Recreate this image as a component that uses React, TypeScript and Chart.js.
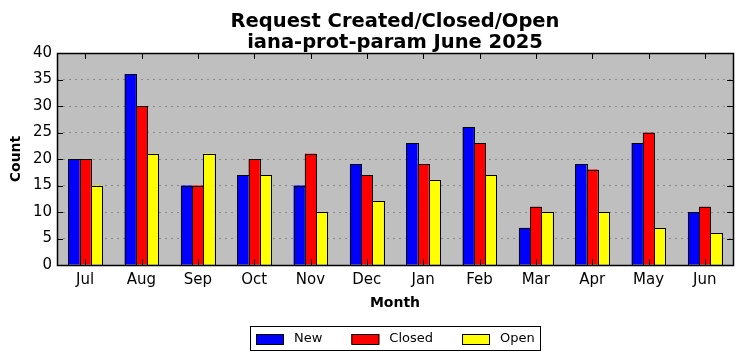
import React, { useEffect, useRef } from "react";
import { Chart, registerables } from "chart.js";

Chart.register(...registerables);

const months = ["Jul", "Aug", "Sep", "Oct", "Nov", "Dec", "Jan", "Feb", "Mar", "Apr", "May", "Jun"];
const newCounts = [20, 36, 15, 17, 15, 19, 23, 26, 7, 19, 23, 10];
const closedCounts = [20, 30, 15, 20, 21, 17, 19, 23, 11, 18, 25, 11];
const openCounts = [15, 21, 21, 17, 10, 12, 16, 17, 10, 10, 7, 6];
const seriesNames = ["New", "Closed", "Open"];
const seriesColors = ["#0000ff", "#ff0000", "#ffff00"];
const titleLines = ["Request Created/Closed/Open", "iana-prot-param June 2025"];

const FONT = "'DejaVu Sans', sans-serif";

const framePlugin = {
  id: "frame",
  beforeDraw(chart: any) {
    const { ctx, chartArea: a } = chart;
    ctx.save();
    ctx.fillStyle = "#bfbfbf";
    ctx.fillRect(a.left, a.top, a.right - a.left, a.bottom - a.top);
    ctx.restore();
  },
  afterDatasetsDraw(chart: any) {
    const { ctx } = chart;
    ctx.save();
    ctx.strokeStyle = "#000";
    ctx.lineWidth = 1;
    chart.data.datasets.forEach((_: any, di: number) => {
      const meta = chart.getDatasetMeta(di);
      meta.data.forEach((bar: any) => {
        const p = bar.getProps(["x", "y", "base", "width"], true);
        const l = Math.round(p.x - p.width / 2) + 0.5;
        const r = Math.round(p.x + p.width / 2) + 0.5;
        const t = Math.round(p.y) + 0.5;
        const b = Math.round(p.base) + 0.5;
        ctx.strokeRect(l, t, r - l, b - t);
      });
    });
    ctx.restore();
  },
  afterDraw(chart: any) {
    const { ctx, chartArea: a, scales } = chart;
    ctx.save();
    const cx = (a.left + a.right) / 2;
    ctx.fillStyle = "#000";
    ctx.textAlign = "center";
    ctx.textBaseline = "alphabetic";
    ctx.font = "bold 19.5px " + FONT;
    ctx.fillText(titleLines[0], cx, 27);
    ctx.fillText(titleLines[1], cx, 48);

    ctx.strokeStyle = "#000";
    ctx.lineWidth = 1;
    ctx.beginPath();
    const L = 6;
    scales.y.ticks.forEach((t: any) => {
      const y = Math.round(scales.y.getPixelForValue(t.value)) + 0.5;
      ctx.moveTo(a.left, y);
      ctx.lineTo(a.left + L, y);
      ctx.moveTo(a.right, y);
      ctx.lineTo(a.right - L, y);
    });
    months.forEach((_, i) => {
      const x = Math.round(scales.x.getPixelForValue(i)) + 0.5;
      ctx.moveTo(x, a.top);
      ctx.lineTo(x, a.top + L);
      ctx.moveTo(x, a.bottom);
      ctx.lineTo(x, a.bottom - L);
    });
    ctx.stroke();
    ctx.lineWidth = 1.5;
    ctx.strokeRect(Math.round(a.left) + 0.5, Math.round(a.top) + 0.5, Math.round(a.right - a.left), Math.round(a.bottom - a.top));

    ctx.lineWidth = 1;
    ctx.textAlign = "left";
    ctx.font = "13px " + FONT;
    const boxW = 28, boxH = 10, gapText = 10, gapItem = 29, padL = 6, padR = 5;
    const widths = seriesNames.map((n) => ctx.measureText(n).width);
    let total = padL + padR;
    widths.forEach((w, i) => {
      total += boxW + gapText + w + (i < widths.length - 1 ? gapItem : 0);
    });
    const left = Math.round(cx - total / 2);
    const top = 326;
    const h = 24;
    const cy = top + h / 2 + 0.5;
    ctx.strokeStyle = "#000";
    ctx.strokeRect(left + 0.5, top + 0.5, Math.round(total), h);
    let x = left + padL;
    ctx.textBaseline = "middle";
    seriesNames.forEach((n, i) => {
      ctx.fillStyle = seriesColors[i];
      ctx.fillRect(x, Math.round(cy - boxH / 2), boxW, boxH);
      ctx.strokeRect(x + 0.5, Math.round(cy - boxH / 2) + 0.5, boxW - 1, boxH);
      ctx.fillStyle = "#000";
      ctx.fillText(n, x + boxW + gapText, cy);
      x += boxW + gapText + widths[i] + gapItem;
    });
    ctx.restore();
  },
};

export default function App() {
  const ref = useRef<HTMLCanvasElement>(null);
  useEffect(() => {
    document.body.style.margin = "0";
    const ds = (i: number, data: number[]) => ({
      label: seriesNames[i],
      data,
      backgroundColor: seriesColors[i],
      borderWidth: 0,
      inflateAmount: 0,
      categoryPercentage: 0.6,
      barPercentage: 1,
    });
    const chart = new Chart(ref.current!, {
      type: "bar",
      data: {
        labels: months,
        datasets: [ds(0, newCounts), ds(1, closedCounts), ds(2, openCounts)],
      },
      options: {
        animation: false,
        responsive: false,
        devicePixelRatio: 1,
        layout: { padding: { left: 0, right: 9, top: 53, bottom: 46 } },
        plugins: {
          title: { display: false },
          legend: { display: false },
          tooltip: { enabled: false },
        },
        scales: {
          x: {
            grid: { display: false, drawTicks: false },
            border: { display: false },
            ticks: { color: "#000", font: { family: FONT, size: 15 }, padding: 6, maxRotation: 0 },
            title: {
              display: true,
              text: "Month",
              color: "#000",
              font: { family: FONT, size: 14, weight: "bold" },
              padding: { top: 0, bottom: 3 },
            },
            afterFit(s: any) {
              s.height = 50;
            },
          },
          y: {
            min: 0,
            max: 40,
            grid: { color: "#8a8a8a", drawTicks: false, lineWidth: 1 },
            border: { display: false, dash: [2, 4] },
            ticks: { stepSize: 5, color: "#000", font: { family: FONT, size: 15 }, padding: 5 },
            title: {
              display: true,
              text: "Count",
              color: "#000",
              font: { family: FONT, size: 14, weight: "bold" },
              padding: { top: 8, bottom: 2 },
            },
            afterFit(s: any) {
              s.width = 57;
            },
          },
        },
      },
      plugins: [framePlugin],
    } as any);
    return () => chart.destroy();
  }, []);
  return (
    <div style={{ width: 742, height: 361 }}>
      <canvas ref={ref} width={742} height={361} style={{ display: "block" }} />
    </div>
  );
}
